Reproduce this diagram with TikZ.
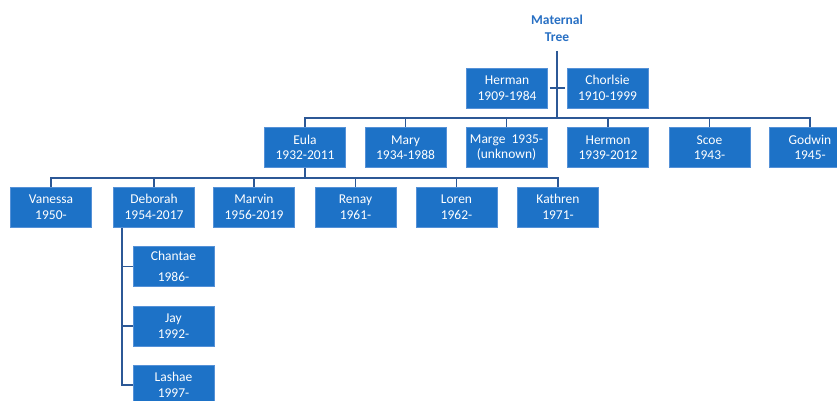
\documentclass[tikz,border=0pt]{standalone}
\usepackage{fontspec}
\setmainfont{Carlito}
\definecolor{boxblue}{RGB}{29,114,199}
\definecolor{edgeblue}{RGB}{85,145,215}
\definecolor{linkblue}{RGB}{44,88,150}
\definecolor{titleblue}{RGB}{40,112,196}

\begin{document}
\begin{tikzpicture}[x=1pt,y=-1pt,line width=1.9pt]

      \clip (0,0) rectangle (837,401);
      \fill[white] (0,0) rectangle (837,401);

      \node[text=titleblue,font=\fontsize{13.5}{16.5}\selectfont\bfseries,align=center] (title) at (557,28.5) {Maternal\\Tree};

      \begin{scope}[every node/.style={rectangle,fill=boxblue,draw=edgeblue,line width=0.6pt,text=white,
          minimum width=81pt,minimum height=40pt,inner sep=0pt,align=center,
          font=\fontsize{13.5}{15.5}\selectfont}]
        \node (herman)   at (507,88)    {Herman\\1909-1984};
        \node (chorlsie) at (607.5,88)  {Chorlsie\\1910-1999};

        \node (eula)   at (305,147.5)   {Eula\\1932-2011};
        \node (mary)   at (405.5,147.5) {Mary\\1934-1988};
        \node (marge)  at (506.5,147.5) {Marge\ \ 1935-\\(unknown)};
        \node (hermon) at (608,147.5)   {Hermon\\1939-2012};
        \node (scoe)   at (709.5,147.5) {Scoe\\1943-};
        \node (godwin) at (810,147.5)   {Godwin\\1945-};

        \node (vanessa) at (51,207)    {Vanessa\\1950-};
        \node (deborah) at (154,207)   {Deborah\\1954-2017};
        \node (marvin)  at (254,207)   {Marvin\\1956-2019};
        \node (renay)   at (355.5,207) {Renay\\1961-};
        \node (loren)   at (456.5,207) {Loren\\1962-};
        \node (kathren) at (558,207)   {Kathren\\1971-};

        \node (chantae) at (173.5,266.5) {Chantae\\[5pt]1986-};
        \node (jay)     at (173.5,326)   {Jay\\1992-};
        \node (lashae)  at (173.5,385)   {Lashae\\1997-};
      \end{scope}

      \coordinate (root)  at (557,51);
      \coordinate (bus2)  at (557,118);
      \coordinate (bus3)  at (305,178);
      \coordinate (spine) at (122,228);

      \begin{scope}[draw=linkblue]
        \draw (root) -- (bus2);
        \draw[shorten <=2pt,shorten >=2pt] (herman.east) -- (chorlsie.west);
        \foreach \n in {eula,mary,marge,hermon,scoe,godwin}
          \draw (bus2) -| (\n.north);

        \draw (eula.south) -- (bus3);
        \foreach \n in {vanessa,deborah,marvin,renay,loren,kathren}
          \draw (bus3) -| (\n.north);

        \draw (spine) |- (lashae.west);
        \draw (spine) |- (jay.west);
        \draw (spine) |- (chantae.west);
      \end{scope}

    \end{tikzpicture}
\end{document}
